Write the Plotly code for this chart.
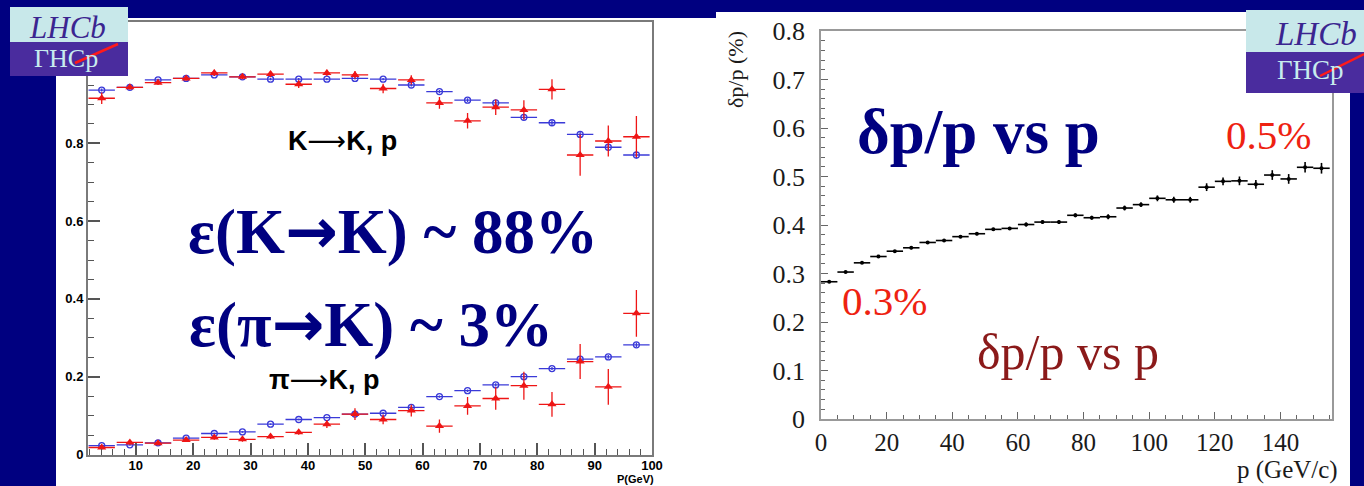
import plotly.graph_objects as go

W, H = 1364, 486
NAVY = "#000080"

# ---------------- left panel: PID efficiency vs momentum ----------------
p_bins = [4.05, 8.96, 13.87, 18.77, 23.68, 28.59, 33.49, 38.4, 43.31, 48.21,
          53.12, 58.03, 62.94, 67.84, 72.75, 77.66, 82.56, 87.47, 92.38, 97.28]

kk_blue = [0.937, 0.944, 0.963, 0.967, 0.976, 0.971, 0.965, 0.965, 0.965, 0.967,
           0.965, 0.950, 0.933, 0.911, 0.904, 0.867, 0.853, 0.823, 0.790, 0.770]
kk_blue_err = [0.004, 0.003, 0.003, 0.003, 0.003, 0.003, 0.003, 0.003, 0.003, 0.003,
               0.003, 0.004, 0.004, 0.005, 0.005, 0.006, 0.006, 0.007, 0.008, 0.009]

kk_red = [0.916, 0.944, 0.956, 0.967, 0.981, 0.971, 0.978, 0.952, 0.981, 0.976,
          0.941, 0.963, 0.904, 0.858, 0.893, 0.886, 0.939, 0.770, 0.806, 0.817]
kk_red_err = [0.015, 0.006, 0.006, 0.006, 0.008, 0.006, 0.008, 0.010, 0.008, 0.010,
              0.012, 0.012, 0.015, 0.020, 0.020, 0.025, 0.026, 0.053, 0.040, 0.053]

pik_blue = [0.023, 0.025, 0.030, 0.042, 0.054, 0.058, 0.078, 0.090, 0.095, 0.104,
            0.106, 0.121, 0.149, 0.164, 0.179, 0.200, 0.221, 0.245, 0.251, 0.282]
pik_blue_err = [0.002, 0.002, 0.002, 0.002, 0.002, 0.002, 0.002, 0.002, 0.002, 0.003,
                0.003, 0.003, 0.003, 0.003, 0.004, 0.004, 0.004, 0.005, 0.005, 0.006]

pik_red = [0.018, 0.031, 0.029, 0.037, 0.044, 0.039, 0.046, 0.057, 0.078, 0.104,
           0.090, 0.113, 0.073, 0.125, 0.144, 0.177, 0.129, 0.239, 0.174, 0.363]
pik_red_err = [0.005, 0.005, 0.005, 0.005, 0.006, 0.006, 0.006, 0.006, 0.010, 0.015,
               0.012, 0.015, 0.017, 0.023, 0.029, 0.036, 0.032, 0.045, 0.046, 0.060]

left_xticks = [10, 20, 30, 40, 50, 60, 70, 80, 90, 100]
left_yticks = [0, 0.2, 0.4, 0.6, 0.8]
left_yticktext = ["0", "0.2", "0.4", "0.6", "0.8"]

# ---------------- right panel: momentum resolution ----------------
p_mom = [2.5, 7.5, 12.5, 17.5, 22.5, 27.5, 32.5, 37.5, 42.5, 47.5, 52.5,
         57.5, 62.5, 67.5, 72.5, 77.5, 82.5, 87.5, 92.5, 97.5, 102.5, 107.5,
         112.5, 117.5, 122.5, 127.5, 132.5, 137.5, 142.5, 147.5, 152.5]
dp_over_p = [0.283, 0.303, 0.322, 0.335, 0.346, 0.353, 0.364, 0.368, 0.376, 0.382,
             0.391, 0.393, 0.401, 0.406, 0.406, 0.420, 0.415, 0.417, 0.435, 0.442,
             0.455, 0.452, 0.452, 0.478, 0.490, 0.491, 0.484, 0.503, 0.495, 0.519,
             0.517]
dp_err = [0.002, 0.002, 0.002, 0.002, 0.002, 0.003, 0.003, 0.003, 0.003, 0.003,
          0.003, 0.003, 0.004, 0.004, 0.004, 0.004, 0.004, 0.005, 0.005, 0.005,
          0.006, 0.006, 0.006, 0.008, 0.008, 0.009, 0.009, 0.010, 0.010, 0.011,
          0.011]
right_xticks = [0, 20, 40, 60, 80, 100, 120, 140]
right_yticks = [0, 0.1, 0.2, 0.3, 0.4, 0.5, 0.6, 0.7, 0.8]
right_yticktext = ["0", "0.1", "0.2", "0.3", "0.4", "0.5", "0.6", "0.7", "0.8"]


def fx(px):
    return px / W


def fy(py):
    return 1 - py / H


BLUE = "#3a3ad8"
RED = "#ee1515"

fig = go.Figure()


def blue_series(y, err):
    fig.add_trace(go.Scatter(
        x=p_bins, y=y, mode="markers", xaxis="x", yaxis="y",
        marker=dict(symbol="circle-open", size=6, color=BLUE, line=dict(width=1.3)),
        error_x=dict(type="constant", value=2.3, color=BLUE, thickness=1.3, width=0),
        error_y=dict(type="data", array=err, color=BLUE, thickness=1.3, width=0),
        showlegend=False))


def red_series(y, err):
    fig.add_trace(go.Scatter(
        x=p_bins, y=y, mode="markers", xaxis="x", yaxis="y",
        marker=dict(symbol="triangle-up", size=8, color=RED),
        error_x=dict(type="constant", value=2.3, color=RED, thickness=1.3, width=0),
        error_y=dict(type="data", array=err, color=RED, thickness=1.3, width=0),
        showlegend=False))


blue_series(kk_blue, kk_blue_err)
red_series(kk_red, kk_red_err)
blue_series(pik_blue, pik_blue_err)
red_series(pik_red, pik_red_err)

fig.add_trace(go.Scatter(
    x=p_mom, y=dp_over_p, mode="markers", xaxis="x2", yaxis="y2",
    marker=dict(symbol="circle", size=4, color="black"),
    error_x=dict(type="constant", value=2.5, color="black", thickness=1.6, width=0),
    error_y=dict(type="data", array=dp_err, color="black", thickness=1.6, width=0),
    showlegend=False))

LEFT_FONT = dict(family="Liberation Sans", size=13, color="black", weight="bold")
RIGHT_FONT = dict(family="Liberation Serif", size=25, color="#1a1a1a")

fig.update_layout(
    template="none",
    width=W, height=H, autosize=False,
    margin=dict(l=0, r=0, t=0, b=0, pad=0, autoexpand=False),
    paper_bgcolor=NAVY, plot_bgcolor="white",
    xaxis=dict(domain=[fx(88), fx(652)], range=[1.66, 100], anchor="y",
               automargin=False, ticklabelstandoff=-2,
               tickvals=left_xticks, ticks="inside", ticklen=12, tickwidth=1.5,
               tickcolor="#555", showline=True, mirror=True, linecolor="#7a7a7a",
               linewidth=2, showgrid=False, zeroline=False, tickfont=LEFT_FONT,
               minor=dict(dtick=2, ticks="inside", ticklen=6, tickcolor="#555",
                          tickwidth=1.2, showgrid=False)),
    yaxis=dict(domain=[fy(454.5), fy(22)], range=[0, 1.112], anchor="x",
               automargin=False,
               tickvals=left_yticks, ticktext=left_yticktext,
               ticks="inside", ticklen=12, tickwidth=1.5, tickcolor="#555",
               showline=True, mirror=True, linecolor="#7a7a7a", linewidth=2,
               showgrid=False, zeroline=False, tickfont=LEFT_FONT,
               minor=dict(dtick=0.05, ticks="inside", ticklen=6, tickcolor="#555",
                          tickwidth=1.2, showgrid=False)),
    xaxis2=dict(domain=[fx(821), fx(1332)], range=[0, 155.7], anchor="y2",
                automargin=False,
                tickvals=right_xticks, ticks="inside", ticklen=7, tickwidth=1.2,
                tickcolor="#666", showline=True, mirror=True, linecolor="#999",
                linewidth=1.5, showgrid=False, zeroline=False, tickfont=RIGHT_FONT,
                minor=dict(dtick=5, ticks="inside", ticklen=4, tickcolor="#666",
                           showgrid=False)),
    yaxis2=dict(domain=[fy(419), fy(31)], range=[0, 0.8], anchor="x2",
                automargin=False, ticklabelstandoff=9,
                tickvals=right_yticks, ticktext=right_yticktext,
                ticks="inside", ticklen=7, tickwidth=1.2, tickcolor="#666",
                showline=True, mirror=True, linecolor="#999", linewidth=1.5,
                showgrid=False, zeroline=False,
                tickfont=dict(family="Liberation Serif", size=26, color="#1a1a1a"),
                minor=dict(dtick=0.02, ticks="inside", ticklen=4, tickcolor="#666",
                           showgrid=False)),
)

shapes = []
# white slide panels behind the two plots
shapes.append(dict(type="rect", xref="paper", yref="paper", x0=fx(56), x1=fx(1350),
                   y0=0, y1=fy(18), fillcolor="white", line_width=0, layer="below"))
shapes.append(dict(type="rect", xref="paper", yref="paper", x0=fx(716), x1=fx(1350),
                   y0=fy(18), y1=fy(12), fillcolor="white", line_width=0, layer="below"))


def logo(x0, x1, y0, ymid, y1, red_from, red_to):
    shapes.append(dict(type="rect", xref="paper", yref="paper", x0=fx(x0), x1=fx(x1),
                       y0=fy(ymid), y1=fy(y0), fillcolor="#c8e8ea", line_width=0,
                       layer="above"))
    shapes.append(dict(type="rect", xref="paper", yref="paper", x0=fx(x0), x1=fx(x1),
                       y0=fy(y1), y1=fy(ymid), fillcolor="#4a2c9e", line_width=0,
                       layer="above"))
    shapes.append(dict(type="line", xref="paper", yref="paper",
                       x0=fx(red_from[0]), y0=fy(red_from[1]),
                       x1=fx(red_to[0]), y1=fy(red_to[1]),
                       line=dict(color="#ff1a1a", width=2.5), layer="above"))


logo(10, 128, 7, 42, 76, (75, 63), (118, 44))
logo(1246, 1364, 10, 52, 93, (1320, 76), (1364, 54))
fig.update_layout(shapes=shapes)

ann = []


def text(s, x, y, size, color, family="Liberation Serif", weight="normal",
         style="normal", xanchor="center", angle=0):
    ann.append(dict(text=s, x=fx(x), y=fy(y), xref="paper", yref="paper",
                    xanchor=xanchor, yanchor="middle", showarrow=False,
                    textangle=angle,
                    font=dict(family=family, size=size, color=color, weight=weight,
                              style=style)))


ARROW_BIG = "<span style='font-family:\"DejaVu Sans\"'>→</span>"
ARROW_THIN = "<span style='font-family:\"DejaVu Sans\";font-weight:normal'>⟶</span>"

# logo lettering with its reflection
text("LHCb", 67, 27, 31, "#3b2590", style="italic")
text("ΓHCp", 66, 58, 26, "#c8ecee")
text("LHCb", 1316, 34, 33, "#3b2590", style="italic")
text("ΓHCp", 1310, 70, 27, "#c8ecee")

# left panel labels
text("K" + ARROW_THIN + "K, p", 342, 140, 27, "black", family="Liberation Sans",
     weight="bold")
text("π" + ARROW_THIN + "K, p", 324, 379, 27, "black", family="Liberation Sans",
     weight="bold")
text("ε(K" + ARROW_BIG + "K) ~ 88%", 393, 231, 63, NAVY, weight="bold")
text("ε(π" + ARROW_BIG + "K) ~ 3%", 371, 324, 63, NAVY, weight="bold")
text("P(GeV)", 656, 478.5, 11, "black", family="Liberation Sans", weight="bold",
     xanchor="right")

# right panel labels
text("δp/p vs p", 978, 132, 63, NAVY, weight="bold")
text("0.5%", 1268, 135, 41, "#ee2211")
text("0.3%", 884, 301, 41, "#ee2211")
text("δp/p vs p", 1068, 352, 50, "#8b1a1a")
text("δp/p (%)", 735, 70, 22, "#1a1a1a", angle=-90)
text("p (GeV/c)", 1340, 470, 25, "#1a1a1a", xanchor="right")

fig.update_layout(annotations=ann)
fig.write_html("out.html")
